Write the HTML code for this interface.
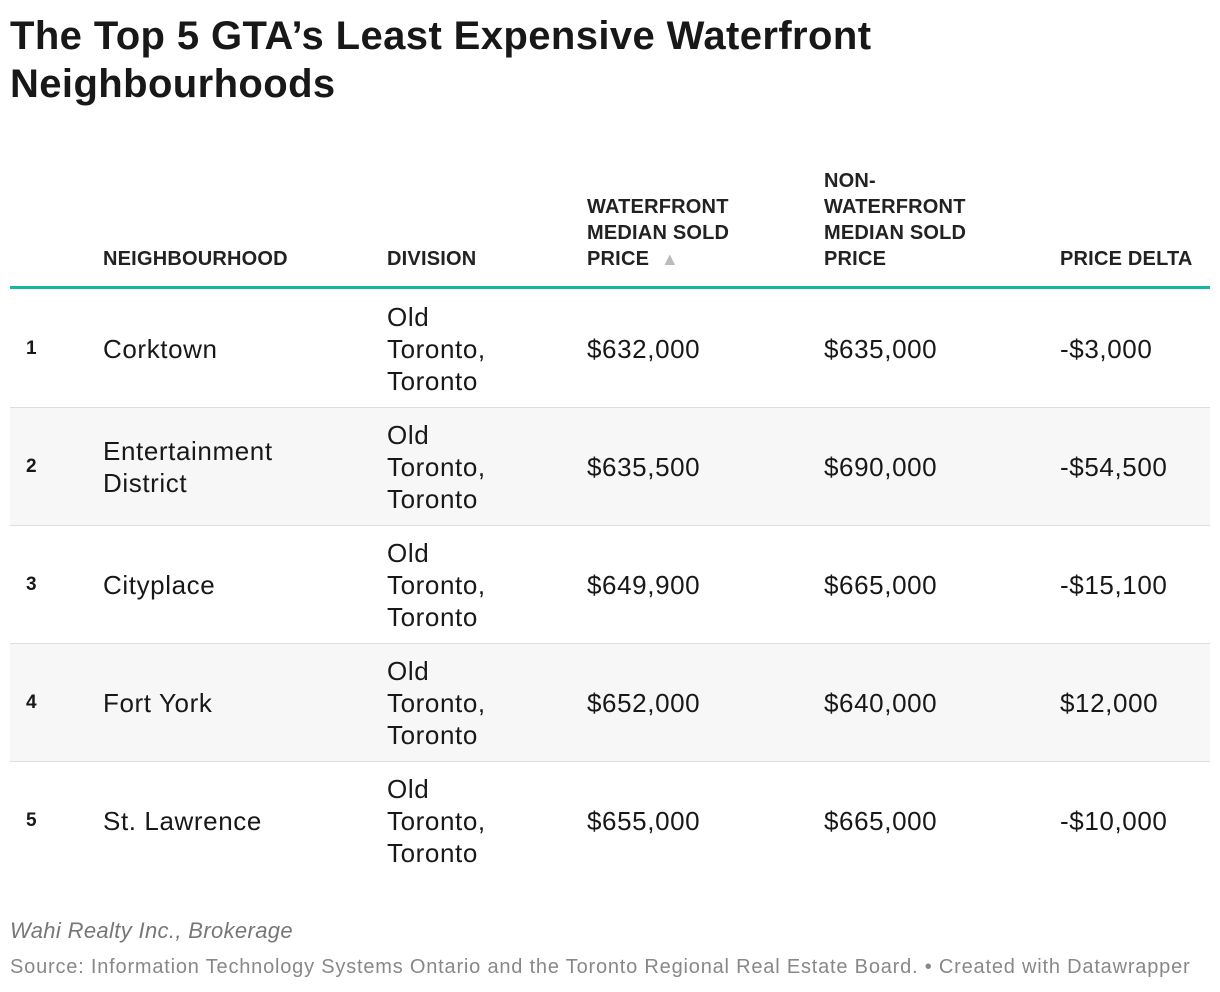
<!DOCTYPE html>
<html><head><meta charset="utf-8"><style>
body{margin:0;width:1220px;height:992px;background:#fff;font-family:"Liberation Sans",Arial,sans-serif;color:#181818;position:relative;overflow:hidden}
.t{position:absolute;left:10px;top:12px;font-size:40px;font-weight:bold;line-height:48px;letter-spacing:0.4px;width:1000px}
.h{position:absolute;font-size:20px;font-weight:bold;line-height:26px;bottom:720px;color:#222;letter-spacing:0.2px}
.teal{position:absolute;left:10px;width:1200px;top:286px;height:3px;background:#14b89c}
.row{position:absolute;left:10px;width:1200px;height:117px;border-bottom:1px solid #dedede}
.row.last{border-bottom:none}
.row.g{background:#f7f7f7}
.c{position:absolute;font-size:26px;line-height:32px;top:50%;transform:translateY(-50%);letter-spacing:0.6px}
.rk{font-size:19px;font-weight:bold;left:16px}
.f1{position:absolute;left:10px;top:918px;font-size:22px;font-style:italic;color:#777;letter-spacing:0.35px}
.f2{position:absolute;left:10px;top:956px;font-size:20px;color:#888;letter-spacing:0.8px}
</style></head><body>
<div class="t">The Top 5 GTA’s Least Expensive Waterfront Neighbourhoods</div>
<div class="h" style="left:103px">NEIGHBOURHOOD</div>
<div class="h" style="left:387px">DIVISION</div>
<div class="h" style="left:587px">WATERFRONT<br>MEDIAN SOLD<br>PRICE <span style="color:#bbb;font-size:18px;margin-left:6px">▲</span></div>
<div class="h" style="left:824px">NON-<br>WATERFRONT<br>MEDIAN SOLD<br>PRICE</div>
<div class="h" style="left:1060px">PRICE DELTA</div>
<div class="teal"></div>
<div id="rows"></div>
<div class="f1">Wahi Realty Inc., Brokerage</div>
<div class="f2">Source: Information Technology Systems Ontario and the Toronto Regional Real Estate Board. • Created with Datawrapper</div>
<script>
const names=["Corktown","Entertainment<br>District","Cityplace","Fort York","St. Lawrence"];
const wf=["$632,000","$635,500","$649,900","$652,000","$655,000"];
const nwf=["$635,000","$690,000","$665,000","$640,000","$665,000"];
const delta=["-$3,000","-$54,500","-$15,100","$12,000","-$10,000"];
const host=document.getElementById('rows');
names.forEach((n,i)=>{
  const r=document.createElement('div');
  r.className='row'+(i%2?' g':'')+(i===names.length-1?' last':'');
  r.style.top=(290+i*118)+'px';
  
  
  r.innerHTML='<div class="c rk">'+(i+1)+'</div><div class="c" style="left:93px">'+n+'</div><div class="c" style="left:377px">Old<br>Toronto,<br>Toronto</div><div class="c" style="left:577px">'+wf[i]+'</div><div class="c" style="left:814px">'+nwf[i]+'</div><div class="c" style="left:1050px">'+delta[i]+'</div>';
  host.appendChild(r);
});
</script>
</body></html>
